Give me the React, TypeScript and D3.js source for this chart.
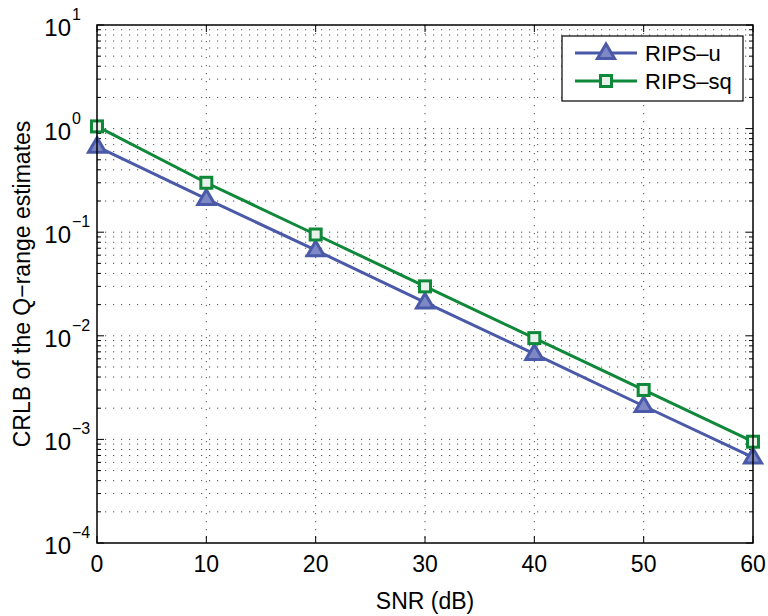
import React from "react";
import * as d3 from "d3";

const snr = [0, 10, 20, 30, 40, 50, 60];
const ripsU = [0.67, 0.21, 0.067, 0.021, 0.0067, 0.0021, 0.00067];
const ripsSq = [1.05, 0.3, 0.095, 0.03, 0.0095, 0.003, 0.00095];
const xTicks = [0, 10, 20, 30, 40, 50, 60];
const yExps = [1, 0, -1, -2, -3, -4];
const seriesNames = ["RIPS\u2013u", "RIPS\u2013sq"];

const W = 768, H = 616;
const L = 97, R = 753, T = 25, B = 543;
const BLUE = "#4a5aa8";
const GREEN = "#10883a";
const FONT = "Liberation Sans, Arial, Helvetica, sans-serif";

export default function App() {
  const x = d3.scaleLinear().domain([0, 60]).range([L, R]);
  const y = d3.scaleLog().domain([1e-4, 10]).range([B, T]);
  const line = d3.line<number>().x((_, i) => x(snr[i])).y((v) => y(v));

  const minor: number[] = [];
  for (let e = -4; e < 1; e++) for (let k = 2; k <= 9; k++) minor.push(k * Math.pow(10, e));
  const majors = yExps.map((e) => Math.pow(10, e));

  const tri = (cx: number, cy: number, s: number) =>
    `M${cx},${cy - s}L${cx + s * 0.95},${cy + s * 0.62}L${cx - s * 0.95},${cy + s * 0.62}Z`;

  const marker = (k: number, cx: number, cy: number, key: string) =>
    k === 0 ? (
      <path key={key} d={tri(cx, cy, 9)} fill="#7d88c4" stroke={BLUE} strokeWidth={3} strokeLinejoin="miter" />
    ) : (
      <rect key={key} x={cx - 5.5} y={cy - 5.5} width={11} height={11} fill="#e8f2ea" stroke={GREEN} strokeWidth={3} />
    );

  return (
    <svg width={W} height={H} style={{ position: "absolute", left: 0, top: 0, background: "#fff" }}>
      <rect x={0} y={0} width={W} height={H} fill="#fff" />
      {/* grid */}
      <g stroke="#222" strokeWidth={1} strokeDasharray="1.2,6.8" opacity={0.8}>
        {[...minor, ...majors.slice(1, -1)].map((v, i) => (
          <line key={"gy" + i} x1={L} x2={R} y1={y(v)} y2={y(v)} />
        ))}
        {xTicks.slice(1, -1).map((v, i) => (
          <line key={"gx" + i} x1={x(v)} x2={x(v)} y1={T} y2={B} />
        ))}
      </g>
      {/* ticks */}
      <g stroke="#000" strokeWidth={1}>
        {xTicks.map((v, i) => (
          <g key={"tx" + i}>
            <line x1={x(v)} x2={x(v)} y1={B} y2={B - 7} />
            <line x1={x(v)} x2={x(v)} y1={T} y2={T + 7} />
          </g>
        ))}
        {majors.map((v, i) => (
          <g key={"ty" + i}>
            <line x1={L} x2={L + 7} y1={y(v)} y2={y(v)} />
            <line x1={R} x2={R - 7} y1={y(v)} y2={y(v)} />
          </g>
        ))}
        {minor.map((v, i) => (
          <g key={"tm" + i}>
            <line x1={L} x2={L + 4} y1={y(v)} y2={y(v)} />
            <line x1={R} x2={R - 4} y1={y(v)} y2={y(v)} />
          </g>
        ))}
      </g>
      {/* series */}
      <path d={line(ripsU) || ""} fill="none" stroke={BLUE} strokeWidth={3} />
      <path d={line(ripsSq) || ""} fill="none" stroke={GREEN} strokeWidth={3} />
      {ripsU.map((v, i) => marker(0, x(snr[i]), y(v), "mu" + i))}
      {ripsSq.map((v, i) => marker(1, x(snr[i]), y(v), "ms" + i))}
      {/* frame */}
      <rect x={L} y={T} width={R - L} height={B - T} fill="none" stroke="#000" strokeWidth={1.5} />
      {/* tick labels */}
      <g fontFamily={FONT} fill="#000">
        {xTicks.map((v, i) => (
          <text key={"xl" + i} x={x(v)} y={572} fontSize={23} textAnchor="middle">
            {v}
          </text>
        ))}
        {yExps.map((e, i) => (
          <g key={"yl" + i}>
            <text x={71} y={y(Math.pow(10, e)) + 11} fontSize={24} textAnchor="end">10</text>
            <text x={72} y={y(Math.pow(10, e)) - 5} fontSize={16} textAnchor="start">
              {e < 0 ? "\u2212" + -e : String(e)}
            </text>
          </g>
        ))}
        <text x={(L + R) / 2} y={609} fontSize={23} textAnchor="middle">SNR (dB)</text>
        <text transform={`translate(30,${(T + B) / 2}) rotate(-90)`} fontSize={23} textAnchor="middle">
          CRLB of the Q{"\u2212"}range estimates
        </text>
      </g>
      {/* legend */}
      <g>
        <rect x={562} y={36} width={181} height={65} fill="#fff" stroke="#000" strokeWidth={1.2} />
        {seriesNames.map((n, k) => {
          const ly = k === 0 ? 53 : 81;
          return (
            <g key={"lg" + k}>
              <line x1={575} x2={637} y1={ly} y2={ly} stroke={k === 0 ? BLUE : GREEN} strokeWidth={3} />
              {marker(k, 606, ly, "lm" + k)}
              <text x={645} y={ly + 8} fontSize={22} fontFamily={FONT}>{n}</text>
            </g>
          );
        })}
      </g>
    </svg>
  );
}
